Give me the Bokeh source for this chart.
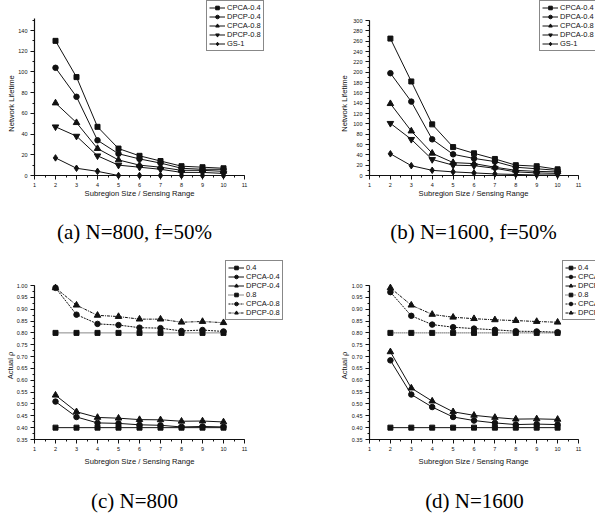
import math
from bokeh.plotting import figure
from bokeh.layouts import column, row
from bokeh.models import (Legend, LegendItem, Label, SingleIntervalTicker, Range1d,
                          NumeralTickFormatter)
from bokeh.embed import file_html
from bokeh.resources import INLINE

# ---------------- data ----------------
x_vals = [2, 3, 4, 5, 6, 7, 8, 9, 10]

# (a) N=800, f=50%
a_cpca_04 = [130, 95, 47, 26, 19, 14, 9, 8, 7]
a_dpcp_04 = [104, 76, 34, 21, 16, 12, 7, 6, 6]
a_cpca_08 = [70, 51, 26, 15, 10, 8, 5, 5, 4]
a_dpcp_08 = [47, 38, 19, 10, 8, 6, 3, 3, 2]
a_gs_1 = [17, 7, 4, 0, 0, 0, 0, 0, 0]
a_labels = ["CPCA-0.4", "DPCP-0.4", "CPCA-0.8", "DPCP-0.8", "GS-1"]

# (b) N=1600, f=50%
b_cpca_04 = [265, 182, 99, 55, 43, 32, 20, 18, 12]
b_dpca_04 = [198, 143, 70, 41, 33, 27, 16, 13, 10]
b_cpca_08 = [139, 86, 43, 25, 23, 16, 10, 8, 7]
b_dpca_08 = [101, 70, 31, 20, 19, 14, 7, 5, 4]
b_gs_1 = [42, 19, 10, 7, 5, 3, 2, 1, 1]
b_labels = ["CPCA-0.4", "DPCA-0.4", "CPCA-0.8", "DPCA-0.8", "GS-1"]

# (c) N=800
c_target_04 = [0.40] * 9
c_cpca_04 = [0.510, 0.445, 0.420, 0.418, 0.412, 0.410, 0.403, 0.405, 0.403]
c_dpcp_04 = [0.537, 0.467, 0.443, 0.440, 0.434, 0.433, 0.427, 0.428, 0.424]
c_target_08 = [0.80] * 9
c_cpca_08 = [0.990, 0.877, 0.838, 0.833, 0.822, 0.820, 0.808, 0.812, 0.806]
c_dpcp_08 = [0.990, 0.917, 0.874, 0.869, 0.858, 0.858, 0.845, 0.848, 0.843]

# (d) N=1600
d_target_04 = [0.40] * 9
d_cpca_04 = [0.684, 0.540, 0.487, 0.445, 0.430, 0.420, 0.413, 0.415, 0.413]
d_dpcp_04 = [0.720, 0.567, 0.512, 0.467, 0.452, 0.443, 0.436, 0.437, 0.435]
d_target_08 = [0.80] * 9
d_cpca_08 = [0.972, 0.872, 0.835, 0.824, 0.818, 0.813, 0.807, 0.806, 0.803]
d_dpcp_08 = [0.990, 0.917, 0.878, 0.866, 0.860, 0.855, 0.852, 0.848, 0.845]
cd_labels = ["0.4", "CPCA-0.4", "DPCP-0.4", "0.8", "CPCA-0.8", "DPCP-0.8"]

captions = ["(a) N=800, f=50%", "(b) N=1600, f=50%", "(c) N=800", "(d) N=1600"]
x_title = "Subregion Size / Sensing Range"
y_titles = ["Network Lifetime", "Network Lifetime", "Actual ρ", "Actual ρ"]

SANS = "Liberation Sans"
SERIF = "Liberation Serif"
INK = "#111111"
MARK_SIZE = {"square": 5, "circle": 5.5, "triangle": 6.5, "inverted_triangle": 6.5, "diamond": 6.5}


def span(v0, p0, v1, p1, length):
    """Range whose value v0 sits p0 px and v1 sits p1 px from the start of a canvas of `length` px."""
    k = (p1 - p0) / (v1 - v0)
    start = v0 - p0 / k
    return Range1d(start, start + length / k)


def make_panel(box, xpix, ypix, y_bounds, y_step, y_fmt, series, legend_tl, glyph_w,
               ytitle_pos, xtitle_pos, caption, caption_pos, y_title):
    cx, cy, w, h = box          # canvas position on the page and its size

    def sx(px):
        return px - cx

    def sy(py):
        return h - (py - cy)

    p = figure(width=w, height=h, output_backend="svg", toolbar_location=None, title=None,
               x_range=span(1, sx(xpix[0]), 11, sx(xpix[1]), w),
               y_range=span(y_bounds[0], sy(ypix[0]), ypix[2], sy(ypix[1]), h),
               min_border=0, min_border_left=0, min_border_right=0,
               min_border_top=0, min_border_bottom=0)
    p.outline_line_color = None
    p.grid.visible = False
    p.background_fill_color = "white"
    p.border_fill_color = "white"

    p.xaxis.ticker = SingleIntervalTicker(interval=1, num_minor_ticks=2)
    p.yaxis.ticker = SingleIntervalTicker(interval=y_step, num_minor_ticks=2)
    p.yaxis.formatter = NumeralTickFormatter(format=y_fmt)
    p.xaxis.bounds = (1, 11)
    p.yaxis.bounds = y_bounds
    p.xaxis.fixed_location = y_bounds[0]
    p.yaxis.fixed_location = 1
    for ax in (p.xaxis[0], p.yaxis[0]):
        ax.axis_line_color = INK
        ax.axis_line_width = 1.2
        ax.major_tick_line_color = INK
        ax.minor_tick_line_color = INK
        ax.major_tick_out = 4
        ax.major_tick_in = 0
        ax.minor_tick_out = 2
        ax.minor_tick_in = 0
        ax.major_label_text_font = SANS
        ax.major_label_text_font_size = "5.5px"
        ax.major_label_text_color = INK
        ax.major_label_standoff = 3

    items = []
    for label, vals, marker, dash in series:
        r1 = p.line(x_vals, vals, line_color=INK, line_width=1, line_dash=dash)
        r2 = p.scatter(x_vals, vals, marker=marker, size=MARK_SIZE[marker],
                       fill_color=INK, line_color=INK)
        items.append(LegendItem(label=label, renderers=[r1, r2]))

    n = len(series)
    item_h = 9
    pad = 2
    leg_h = n * item_h + 2 * pad
    leg = Legend(items=items, location=(sx(legend_tl[0]), sy(legend_tl[1]) - leg_h))
    leg.label_text_font = SANS
    leg.label_text_font_size = "7.5px"
    leg.label_text_color = INK
    leg.label_height = item_h
    leg.glyph_height = item_h
    leg.glyph_width = glyph_w
    leg.label_standoff = 2
    leg.spacing = 0
    leg.padding = pad
    leg.margin = 0
    leg.border_line_color = INK
    leg.border_line_width = 1
    leg.background_fill_color = "white"
    leg.background_fill_alpha = 1
    p.add_layout(leg)

    p.add_layout(Label(x=sx(ytitle_pos[0]), y=sy(ytitle_pos[1]), x_units="screen", y_units="screen",
                       text=y_title, angle=math.pi / 2, text_font=SANS, text_font_size="7.6px",
                       text_color=INK, text_align="center", text_baseline="middle"))
    p.add_layout(Label(x=sx(xtitle_pos[0]), y=sy(xtitle_pos[1]), x_units="screen", y_units="screen",
                       text=x_title, text_font=SANS, text_font_size="7.6px",
                       text_color=INK, text_align="center", text_baseline="middle"))
    p.add_layout(Label(x=sx(caption_pos[0]), y=sy(caption_pos[1]), x_units="screen", y_units="screen",
                       text=caption, text_font=SERIF, text_font_size="21px",
                       text_color="black", text_align="center", text_baseline="middle"))
    return p


# page-pixel targets: x of x=1 and x=11; y of lower bound, y of reference value, reference value
pa = make_panel((0, 0, 295, 255), (34, 244), (175, 30, 140), (0, 152), 20, "0",
                [(a_labels[0], a_cpca_04, "square", "solid"),
                 (a_labels[1], a_dpcp_04, "circle", "solid"),
                 (a_labels[2], a_cpca_08, "triangle", "solid"),
                 (a_labels[3], a_dpcp_08, "inverted_triangle", "solid"),
                 (a_labels[4], a_gs_1, "diamond", "solid")],
                (206, 2), 16, (11, 103), (139, 193), captions[0], (134, 231), y_titles[0])

pb = make_panel((295, 0, 300, 255), (369, 578), (175, 20, 300), (0, 300), 20, "0",
                [(b_labels[0], b_cpca_04, "square", "solid"),
                 (b_labels[1], b_dpca_04, "circle", "solid"),
                 (b_labels[2], b_cpca_08, "triangle", "solid"),
                 (b_labels[3], b_dpca_08, "inverted_triangle", "solid"),
                 (b_labels[4], b_gs_1, "diamond", "solid")],
                (539, 2), 16, (344, 103), (473, 193), captions[1], (473, 231), y_titles[1])

pc = make_panel((0, 255, 295, 261), (34, 244), (439, 285, 1.0), (0.35, 1.0), 0.05, "0.00",
                [(cd_labels[0], c_target_04, "square", "solid"),
                 (cd_labels[1], c_cpca_04, "circle", "solid"),
                 (cd_labels[2], c_dpcp_04, "triangle", "solid"),
                 (cd_labels[3], c_target_08, "square", "1 1"),
                 (cd_labels[4], c_cpca_08, "circle", "2 1"),
                 (cd_labels[5], c_dpcp_08, "triangle", "3 1 1 1")],
                (225, 262), 16, (10, 365), (139, 461), captions[2], (134, 500), y_titles[2])

pd_ = make_panel((295, 255, 300, 261), (369, 578), (439, 285, 1.0), (0.35, 1.0), 0.05, "0.00",
                 [(cd_labels[0], d_target_04, "square", "solid"),
                  (cd_labels[1], d_cpca_04, "circle", "solid"),
                  (cd_labels[2], d_dpcp_04, "triangle", "solid"),
                  (cd_labels[3], d_target_08, "square", "1 1"),
                  (cd_labels[4], d_cpca_08, "circle", "2 1"),
                  (cd_labels[5], d_dpcp_08, "triangle", "3 1 1 1")],
                 (562, 262), 11, (344, 365), (473, 461), captions[3], (474, 500), y_titles[3])

layout = column(row(pa, pb), row(pc, pd_))
open("out.html", "w").write(file_html(layout, INLINE))
